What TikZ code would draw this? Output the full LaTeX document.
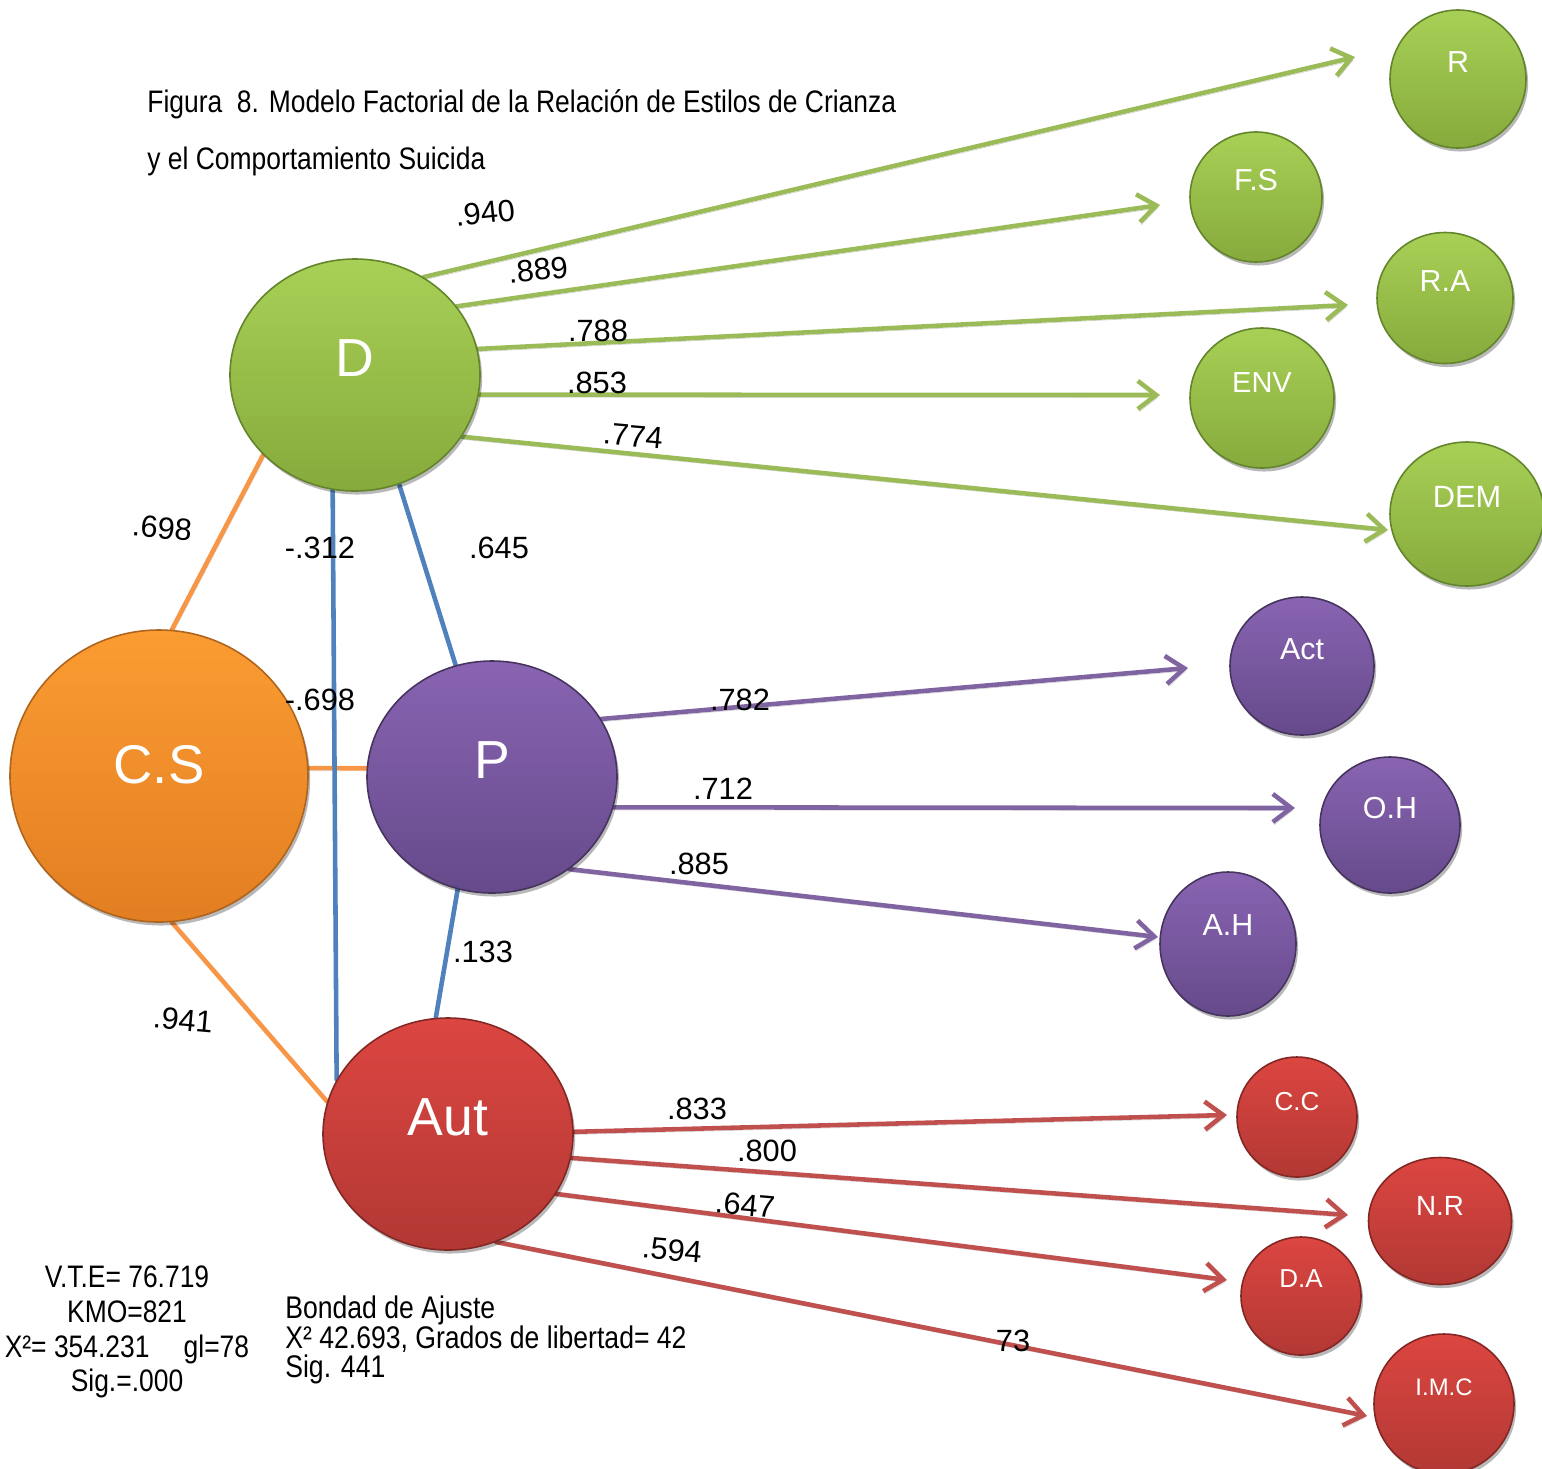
\documentclass[tikz,border=0pt]{standalone}
\usepackage{fontspec}
\setmainfont{Liberation Sans}
\newfontfamily\narrowfont{Liberation Sans}[FakeStretch=0.85]
\usetikzlibrary{shapes.geometric,arrows.meta,shadows}
\pgfdeclarelayer{bg}
\pgfsetlayers{bg,main}
\definecolor{gTop}{HTML}{A8D056}
\definecolor{gBot}{HTML}{86AA3C}
\definecolor{gEdge}{HTML}{62842A}
\definecolor{oTop}{HTML}{FB9C32}
\definecolor{oBot}{HTML}{E27E22}
\definecolor{oEdge}{HTML}{AE641C}
\definecolor{pTop}{HTML}{8964B2}
\definecolor{pBot}{HTML}{654A8B}
\definecolor{pEdge}{HTML}{46345F}
\definecolor{rTop}{HTML}{DC4641}
\definecolor{rBot}{HTML}{B23834}
\definecolor{rEdge}{HTML}{822724}
\definecolor{lGreen}{HTML}{9BBB59}
\definecolor{lOrange}{HTML}{F79646}
\definecolor{lBlue}{HTML}{4F81BD}
\definecolor{lPurple}{HTML}{8064A2}
\definecolor{lRed}{HTML}{C0504D}
\begin{document}
\begin{tikzpicture}[x=0.02cm,y=-0.02cm,
  ball/.style={ellipse, inner sep=0pt, line width=0.9pt,
    drop shadow={shadow xshift=1.2pt, shadow yshift=-2pt, opacity=0.28, fill=black}},
  sz/.style 2 args={minimum width=#1*0.02cm, minimum height=#2*0.02cm},
  gball/.style={ball, top color=gTop, bottom color=gBot, draw=gEdge},
  oball/.style={ball, top color=oTop, bottom color=oBot, draw=oEdge},
  pball/.style={ball, top color=pTop, bottom color=pBot, draw=pEdge},
  rball/.style={ball, top color=rTop, bottom color=rBot, draw=rEdge},
  ltxt/.style={text=white, inner sep=0pt, yshift=0.34cm, font=\fontsize{#1}{#1}\selectfont},
  conn/.style={line width=2.6pt, line cap=round, line join=round,
    preaction={draw=black, opacity=0.16, transform canvas={shift={(0.8pt,-1.5pt)}}}},
  tip/.style={-{Straight Barb[length=10.5pt,width=16pt]}},
  num/.style={inner sep=0pt, font=\fontsize{17.5}{20}\selectfont},
]
\useasboundingbox (0,0) rectangle (1542,1468);

% caption
\node[anchor=west, inner sep=0pt, font=\narrowfont\fontsize{17.7}{20}\selectfont] (cap1) at (147,104)
  {Figura~ 8. Modelo Factorial de la Relación de Estilos de Crianza};
\node[anchor=west, inner sep=0pt, font=\narrowfont\fontsize{17.7}{20}\selectfont] (cap2) at (147,161)
  {y el Comportamiento Suicida};

% factor nodes
\node[gball, sz={250}{232}, label={[ltxt=30.5]center:D}] (D) at (355,375) {};
\node[oball, sz={298}{292}, label={[ltxt=31,yshift=-0.12cm]center:C.S}] (CS) at (159,776) {};
\node[pball, sz={250}{232}, label={[ltxt=30.5]center:P}] (P) at (492,777) {};
\node[rball, sz={250}{232}, label={[ltxt=30.5]center:Aut}] (Aut) at (448,1134) {};

% green items
\node[gball, sz={136}{138}, label={[ltxt=17.3]center:R}] (R) at (1458,79) {};
\node[gball, sz={132}{130}, label={[ltxt=17.3]center:F.S}] (FS) at (1256,197) {};
\node[gball, sz={136}{131}, label={[ltxt=17.3]center:R.A}] (RA) at (1445,298) {};
\node[gball, sz={144}{140}, label={[ltxt=16.5,yshift=-0.04cm]center:ENV}] (ENV) at (1262,398) {};
\node[gball, sz={154}{144}, label={[ltxt=17.5]center:DEM}] (DEM) at (1467,514) {};
% purple items
\node[pball, sz={144}{138}, label={[ltxt=17.3]center:Act}] (Act) at (1302,666) {};
\node[pball, sz={140}{136}, label={[ltxt=17.3]center:O.H}] (OH) at (1390,825) {};
\node[pball, sz={136}{144}, label={[ltxt=17.3,yshift=0.04cm]center:A.H}] (AH) at (1228,944) {};
% red items
\node[rball, sz={120}{120}, label={[ltxt=14.8,yshift=-0.04cm]center:C.C}] (CC) at (1297,1117) {};
\node[rball, sz={143}{127}, label={[ltxt=15.8,yshift=-0.04cm]center:N.R}] (NR) at (1440,1221) {};
\node[rball, sz={120}{118}, label={[ltxt=14.8]center:D.A}] (DA) at (1301,1296) {};
\node[rball, sz={140}{140}, label={[ltxt=13.6]center:I.M.C}] (IMC) at (1444,1404) {};

% arrow end points
\coordinate (eR) at (1355,57);
\coordinate (eFS) at (1160,205);
\coordinate (eRA) at (1348,305);
\coordinate (eENV) at (1160,395);
\coordinate (eDEM) at (1388,530);
\coordinate (eAct) at (1188,668);
\coordinate (eOH) at (1295,808);
\coordinate (eAH) at (1158,937);
\coordinate (eCC) at (1227,1115);
\coordinate (eNR) at (1348,1215);
\coordinate (eDA) at (1227,1280);
\coordinate (eIMC) at (1367,1416);

\begin{pgfonlayer}{bg}
  \draw[conn, draw=lGreen, tip] (D.55) -- (eR);
  \draw[conn, draw=lGreen, tip] (D.34) -- (eFS);
  \draw[conn, draw=lGreen, tip] (D.12) -- (eRA);
  \draw[conn, draw=lGreen, tip] (D.-9) -- (eENV);
  \draw[conn, draw=lGreen, tip] (D.-30) -- (eDEM);

  \draw[conn, draw=lOrange] (CS.85) -- (D.221);
  \draw[conn, draw=lOrange] (CS.3) -- (P.176);
  \draw[conn, draw=lOrange] (CS.275) -- (Aut.165);

  \draw[conn, draw=lBlue] (D.259) -- (Aut.154);
  \draw[conn, draw=lBlue] (D.292) -- (P.108);
  \draw[conn, draw=lBlue] (P.253) -- (Aut.96);

  \draw[conn, draw=lPurple, tip] (P.28) -- (eAct);
  \draw[conn, draw=lPurple, tip] (P.-14) -- (eOH);
  \draw[conn, draw=lPurple, tip] (P.-50) -- (eAH);

  \draw[conn, draw=lRed, tip] (Aut.1) -- (eCC);
  \draw[conn, draw=lRed, tip] (Aut.-11) -- (eNR);
  \draw[conn, draw=lRed, tip] (Aut.-29) -- (eDA);
  \draw[conn, draw=lRed, tip] (Aut.-66) -- (eIMC);
\end{pgfonlayer}

% loadings
\node[num, rotate=6] (n940) at (485,213) {.940};
\node[num, rotate=6] (n889) at (538,270) {.889};
\node[num] (n788) at (598,331) {.788};
\node[num] (n853) at (597,383) {.853};
\node[num, rotate=-5] (n774) at (633,436) {.774};
\node[num, rotate=-5] (n698a) at (162,528) {.698};
\node[num] (n312) at (320,548) {-.312};
\node[num] (n645) at (499,548) {.645};
\node[num] (n698b) at (320,700) {-.698};
\node[num] (n133) at (483,952) {.133};
\node[num, rotate=-5] (n941) at (183,1020) {.941};
\node[num] (n782) at (740,700) {.782};
\node[num] (n712) at (723,789) {.712};
\node[num] (n885) at (699,864) {.885};
\node[num] (n833) at (697,1109) {.833};
\node[num] (n800) at (767,1151) {.800};
\node[num, rotate=-5] (n647) at (745,1205) {.647};
\node[num, rotate=-5] (n594) at (672,1250) {.594};
\node[num] (n73) at (1013,1341) {73};

% fit statistics
\node[align=center, inner sep=0pt, font=\narrowfont\fontsize{17.7}{19.8}\selectfont] (stats) at (127,1332)
  {V.T.E= 76.719\\KMO=821\\X²= 354.231\hspace{1.1em}gl=78\\Sig.=.000};
\node[anchor=west, align=left, inner sep=0pt, font=\narrowfont\fontsize{17.8}{17}\selectfont] (bondad) at (285,1340)
  {Bondad de Ajuste\\X² 42.693, Grados de libertad= 42\\Sig. 441};
\end{tikzpicture}
\end{document}
